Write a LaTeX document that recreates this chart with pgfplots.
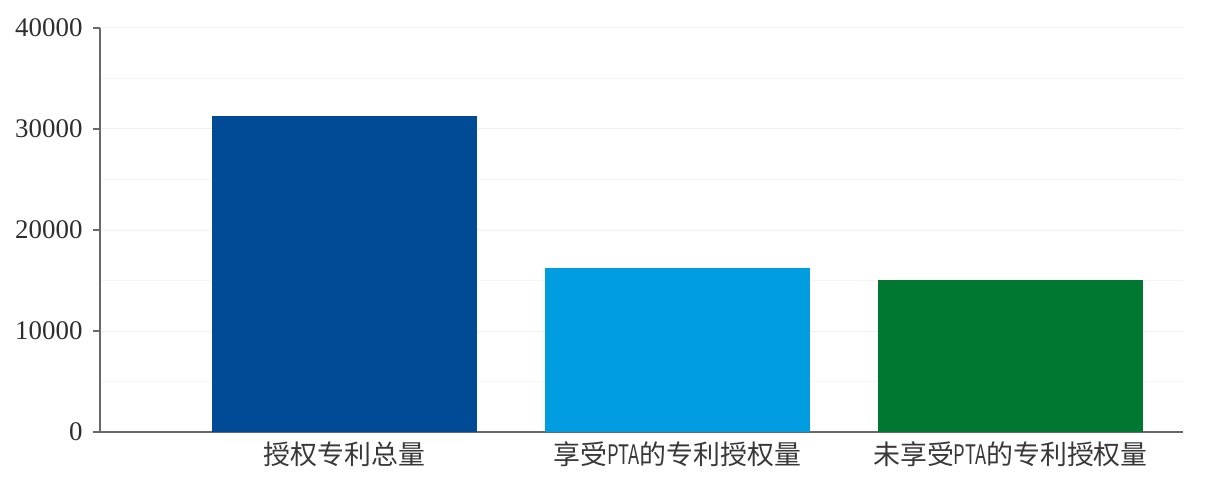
\documentclass[border=0pt]{standalone}
\usepackage{fontspec}
\usepackage{pgfplots}
\pgfplotsset{compat=1.18}
\newfontfamily\cjk{Noto Sans CJK SC}
\newfontfamily\cjknarrow[FakeStretch=0.68]{Noto Sans CJK SC}
\newfontfamily\numfont{Liberation Serif}
\definecolor{barA}{RGB}{0,74,150}
\definecolor{barB}{RGB}{0,158,224}
\definecolor{barC}{RGB}{0,120,50}
\definecolor{axisgray}{RGB}{105,105,105}
\newcommand{\pta}{{\cjknarrow PTA}}
\begin{document}
\begin{tikzpicture}
\begin{axis}[
  scale only axis,
  width=1083bp, height=404bp,
  xmin=-0.734, xmax=2.518,
  ymin=0, ymax=40000,
  axis x line*=bottom,
  axis y line*=left,
  axis line style={axisgray, line width=1.3bp},
  xtick={0,1,2},
  xticklabels={授权专利总量, 享受\pta 的专利授权量, 未享受\pta 的专利授权量},
  xticklabel style={font=\cjk\fontsize{27}{30}\selectfont, text=black!78, yshift=1bp},
  major x tick style={draw=none},
  ytick={0,10000,20000,30000},
  extra y ticks={40000},
  extra y tick style={grid style={gray!40, line width=1.3bp}},
  minor ytick={5000,15000,25000,35000},
  ymajorgrids, yminorgrids,
  major grid style={gray!12, line width=1bp},
  minor grid style={gray!8, line width=1bp},
  tick align=outside,
  major tick length=7bp,
  minor tick length=0pt,
  ytick style={axisgray, line width=1.2bp},
  yticklabel style={font=\numfont\fontsize{27}{29}\selectfont, text=black!82, xshift=-7bp, /pgf/number format/assume math mode=true},
  scaled y ticks=false,
  /pgf/number format/1000 sep={},
  ybar, bar width=0.796, bar shift=0pt,
  clip=false,
]
\addplot[fill=barA, draw=none] coordinates {(0,31300)};
\addplot[fill=barB, draw=none] coordinates {(1,16250)};
\addplot[fill=barC, draw=none] coordinates {(2,15050)};
\end{axis}
\pgfresetboundingbox
\path ([xshift=-100bp,yshift=-46bp]current axis.south west) rectangle ([xshift=27bp,yshift=28bp]current axis.north east);
\end{tikzpicture}
\end{document}
